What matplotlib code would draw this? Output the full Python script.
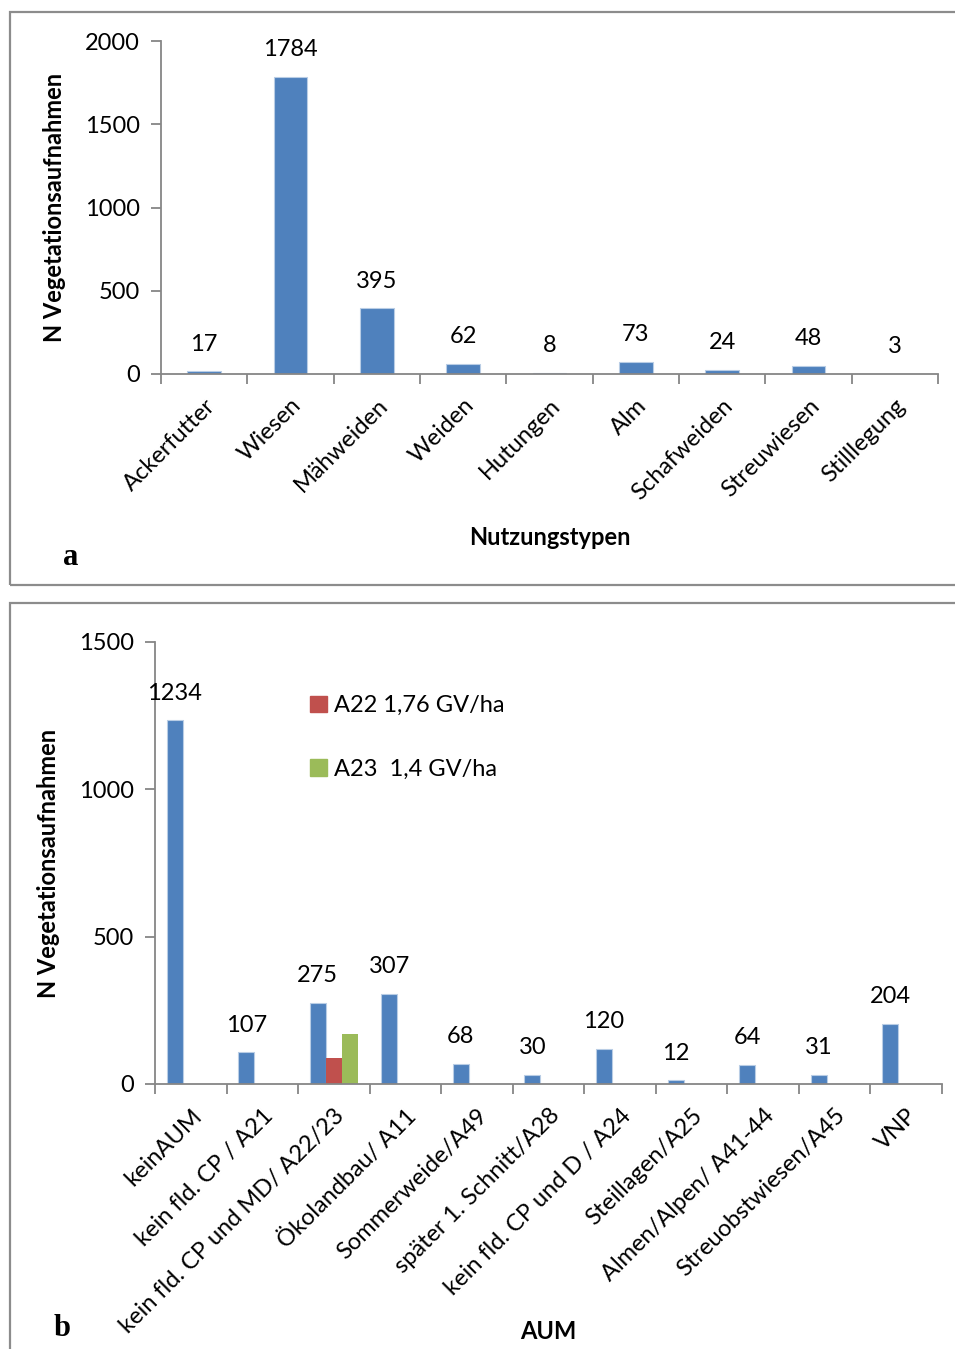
import matplotlib
matplotlib.use("Agg")
import matplotlib.pyplot as plt
import numpy as np
from matplotlib.patches import Rectangle, Patch

plt.rcParams["font.family"] = ["Lato", "DejaVu Sans"]

# Panel a data
nutzung_labels = ["Ackerfutter", "Wiesen", "Mähweiden", "Weiden", "Hutungen",
                  "Alm", "Schafweiden", "Streuwiesen", "Stilllegung"]
nutzung_n = [17, 1784, 395, 62, 8, 73, 24, 48, 3]

# Panel b data
aum_labels = ["keinAUM", "kein fld. CP / A21", "kein fld. CP und MD/ A22/23",
              "Ökolandbau/ A11", "Sommerweide/A49", "später 1. Schnitt/A28",
              "kein fld. CP und D / A24", "Steillagen/A25", "Almen/Alpen/ A41-44",
              "Streuobstwiesen/A45", "VNP"]
aum_n = [1234, 107, 275, 307, 68, 30, 120, 12, 64, 31, 204]
a22_n = [0, 0, 88, 0, 0, 0, 0, 0, 0, 0, 0]
a23_n = [0, 0, 170, 0, 0, 0, 0, 0, 0, 0, 0]
legend_labels = ["A22 1,76 GV/ha", "A23  1,4 GV/ha"]

BLUE = "#4F81BD"
RED = "#C0504D"
GREEN = "#9BBB59"
AXIS_GRAY = "#868686"
FS = 17

W, H = 955, 1349
fig = plt.figure(figsize=(W / 100, H / 100), dpi=100)

# panel frames
for (x0, y0, x1, y1) in [(10, 12, 962, 585), (10, 603, 962, 1360)]:
    fig.patches.append(Rectangle((x0 / W, 1 - y1 / H), (x1 - x0) / W, (y1 - y0) / H,
                                 transform=fig.transFigure, fill=False,
                                 edgecolor="#8c8c8c", linewidth=1.6))


def style_axes(ax, n, labels):
    for s in ["top", "right"]:
        ax.spines[s].set_visible(False)
    for s in ["left", "bottom"]:
        ax.spines[s].set_color(AXIS_GRAY)
        ax.spines[s].set_linewidth(1.3)
    ax.set_xlim(-0.5, n - 0.5)
    ax.set_xticks(np.arange(n))
    ax.set_xticklabels(labels, rotation=45, ha="right", rotation_mode="anchor",
                       fontsize=FS)
    ax.tick_params(axis="x", which="major", length=0, pad=15)
    ax.set_xticks(np.arange(n + 1) - 0.5, minor=True)
    ax.tick_params(axis="x", which="minor", length=7, width=1.3, color=AXIS_GRAY)
    ax.tick_params(axis="y", length=7, width=1.3, color=AXIS_GRAY, labelsize=FS, pad=8)


# ---- panel a ----
ax1 = fig.add_axes([161 / W, 1 - 374 / H, (938 - 161) / W, (374 - 41) / H])
xa = np.arange(len(nutzung_labels))
ax1.bar(xa, nutzung_n, width=0.39, color=BLUE, edgecolor="#b9cde5", linewidth=0.8)
for x, v in zip(xa, nutzung_n):
    ax1.annotate(str(v), (x, v), xytext=(0, 12), textcoords="offset points",
                 ha="center", va="bottom", fontsize=FS)
ax1.set_ylim(0, 2000)
ax1.set_yticks([0, 500, 1000, 1500, 2000])
style_axes(ax1, len(nutzung_labels), nutzung_labels)
ax1.set_ylabel("N Vegetationsaufnahmen", fontsize=FS, fontweight="bold", labelpad=14)
ax1.set_xlabel("Nutzungstypen", fontsize=FS, fontweight="bold", labelpad=16)
fig.text(71 / W, 1 - 557 / H, "a", family="Liberation Serif", fontweight="bold",
         fontsize=22, ha="center", va="center")

# ---- panel b ----
ax2 = fig.add_axes([155 / W, 1 - 1084 / H, (942 - 155) / W, (1084 - 642) / H])
xb = np.arange(len(aum_labels))
bw = 0.224
ax2.bar(xb - bw, aum_n, width=bw, color=BLUE, edgecolor="#b9cde5", linewidth=0.8)
ax2.bar(xb, a22_n, width=bw, color=RED, label=legend_labels[0])
ax2.bar(xb + bw, a23_n, width=bw, color=GREEN, label=legend_labels[1])
for x, v in zip(xb, aum_n):
    ax2.annotate(str(v), (x - bw, v), xytext=(0, 12), textcoords="offset points",
                 ha="center", va="bottom", fontsize=FS)
ax2.set_ylim(0, 1500)
ax2.set_yticks([0, 500, 1000, 1500])
style_axes(ax2, len(aum_labels), aum_labels)
ax2.set_ylabel("N Vegetationsaufnahmen", fontsize=FS, fontweight="bold", labelpad=14)
ax2.set_xlabel("AUM", fontsize=FS, fontweight="bold", labelpad=-12)
handles = [Patch(color=RED), Patch(color=GREEN)]
ax2.legend(handles, legend_labels, loc="upper left", bbox_to_anchor=(0.17, 0.928),
           frameon=False, fontsize=FS, handlelength=0.7, handleheight=0.7,
           handletextpad=0.3, labelspacing=1.8)
fig.text(62 / W, 1 - 1328 / H, "b", family="Liberation Serif", fontweight="bold",
         fontsize=22, ha="center", va="center")

fig.savefig("out.png", dpi=100)
